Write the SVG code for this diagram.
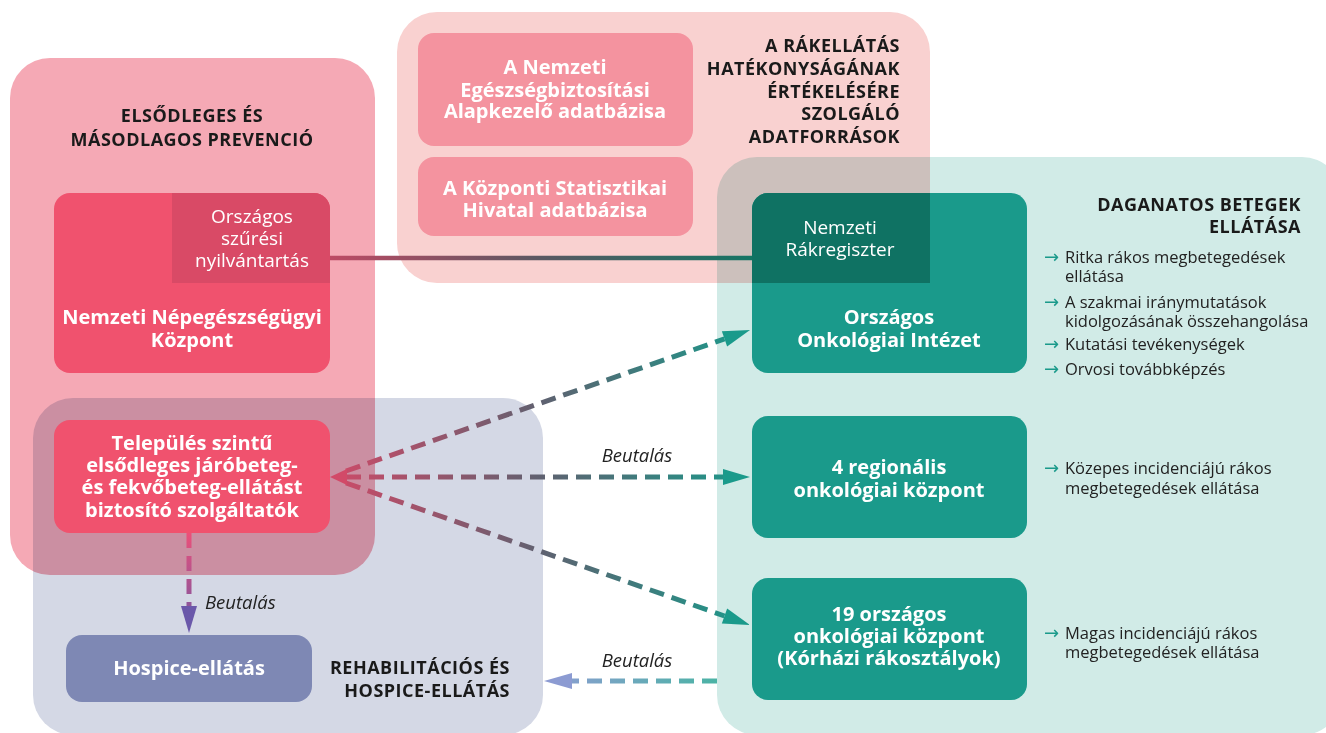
<svg xmlns="http://www.w3.org/2000/svg" width="1326" height="733" viewBox="0 0 1326 733">
<defs>
<style>
.panel{mix-blend-mode:multiply}
.title{font-family:'Open Sans',sans-serif;font-weight:700;font-size:18px;letter-spacing:.5px;fill:#1a1a1a}
.nb{font-family:'Open Sans',sans-serif;font-weight:700;font-size:20px;fill:#fff;text-anchor:middle}
.nr{font-family:'Open Sans',sans-serif;font-weight:400;font-size:19px;fill:#fff;text-anchor:middle}
.bl{font-family:'Open Sans',sans-serif;font-size:16.5px;fill:#222}
.ar{font-family:'DejaVu Sans',sans-serif;font-size:18px;fill:#1a9a8b}
.lab{font-family:'Open Sans',sans-serif;font-style:italic;font-size:18.5px;fill:#222}
.dash{fill:none;stroke-width:5;stroke-dasharray:15 8}
</style>
<linearGradient id="gSolid" gradientUnits="userSpaceOnUse" x1="330" y1="0" x2="752" y2="0">
<stop offset="0" stop-color="#bd4a64"/><stop offset="0.5" stop-color="#5a5862"/><stop offset="1" stop-color="#137564"/>
</linearGradient>
<linearGradient id="gRef" gradientUnits="userSpaceOnUse" x1="330" y1="0" x2="752" y2="0">
<stop offset="0" stop-color="#cf4a68"/><stop offset="0.5" stop-color="#5f6170"/><stop offset="1" stop-color="#1a9a8b"/>
</linearGradient>
<linearGradient id="gDown" gradientUnits="userSpaceOnUse" x1="0" y1="533" x2="0" y2="633">
<stop offset="0" stop-color="#ec5079"/><stop offset="1" stop-color="#6c57a8"/>
</linearGradient>
<linearGradient id="gBack" gradientUnits="userSpaceOnUse" x1="717" y1="0" x2="545" y2="0">
<stop offset="0" stop-color="#4bb3a5"/><stop offset="1" stop-color="#8e9dd3"/>
</linearGradient>
<marker id="mTeal" markerUnits="userSpaceOnUse" markerWidth="28" markerHeight="16" refX="0" refY="8" orient="auto" overflow="visible">
<path d="M0,0 L27,8 L0,16 z" fill="#1a9a8b"/>
</marker>
<marker id="mPurple" markerUnits="userSpaceOnUse" markerWidth="28" markerHeight="16" refX="0" refY="8" orient="auto" overflow="visible">
<path d="M0,0 L27,8 L0,16 z" fill="#6a58aa"/>
</marker>
<marker id="mLav" markerUnits="userSpaceOnUse" markerWidth="28" markerHeight="16" refX="0" refY="8" orient="auto" overflow="visible">
<path d="M0,0 L28,8 L0,16 z" fill="#8c9bd2"/>
</marker>
</defs>
<rect x="0" y="0" width="1326" height="733" fill="#fff"/>

<g id="panels">
<g id="panel-prevencio">
<rect class="panel" x="10" y="58" width="365" height="517" rx="40" fill="#f5a9b5"/>
</g>
<g id="panel-adatforrasok">
<rect class="panel" x="397" y="12" width="533" height="271" rx="40" fill="#f9d1d0"/>
</g>
<g id="panel-ellatas">
<rect class="panel" x="717" y="157" width="625" height="578" rx="40" fill="#d1ebe7"/>
</g>
<g id="panel-hospice">
<rect class="panel" x="33" y="398" width="510" height="337" rx="40" fill="#d4d8e5"/>
</g>
</g>

<g id="titles">
<text class="title" text-anchor="middle" x="192" y="122">ELSŐDLEGES ÉS</text>
<text class="title" text-anchor="middle" x="192" y="146">MÁSODLAGOS PREVENCIÓ</text>
<text class="title" text-anchor="end" x="900" y="52">A RÁKELLÁTÁS</text>
<text class="title" text-anchor="end" x="900" y="75">HATÉKONYSÁGÁNAK</text>
<text class="title" text-anchor="end" x="900" y="97.5">ÉRTÉKELÉSÉRE</text>
<text class="title" text-anchor="end" x="900" y="120">SZOLGÁLÓ</text>
<text class="title" text-anchor="end" x="900" y="143">ADATFORRÁSOK</text>
<text class="title" text-anchor="end" x="1301" y="211">DAGANATOS BETEGEK</text>
<text class="title" text-anchor="end" x="1301" y="233">ELLÁTÁSA</text>
<text class="title" text-anchor="end" x="510" y="674">REHABILITÁCIÓS ÉS</text>
<text class="title" text-anchor="end" x="510" y="697">HOSPICE-ELLÁTÁS</text>
</g>

<g id="node-neak">
<rect x="418" y="33" width="275" height="113" rx="16" fill="#f4939f"/>
<text class="nb" x="555" y="74">A Nemzeti</text>
<text class="nb" x="555" y="96.5">Egészségbiztosítási</text>
<text class="nb" x="555" y="118">Alapkezelő adatbázisa</text>
</g>
<g id="node-ksh">
<rect x="418" y="157" width="275" height="79" rx="16" fill="#f4939f"/>
<text class="nb" x="555" y="195">A Központi Statisztikai</text>
<text class="nb" x="555" y="217">Hivatal adatbázisa</text>
</g>

<g id="node-nnk">
<rect x="54" y="193" width="276" height="180" rx="16" fill="#f0526e"/>
<path d="M172,193 H314 A16,16 0 0 1 330,209 V283 H172 Z" fill="#d94a66"/>
<text class="nr" x="252" y="223">Országos</text>
<text class="nr" x="252" y="245">szűrési</text>
<text class="nr" x="252" y="267">nyilvántartás</text>
<text class="nb" x="192" y="324">Nemzeti Népegészségügyi</text>
<text class="nb" x="192" y="347">Központ</text>
</g>

<g id="node-ooi">
<rect x="752" y="193" width="275" height="180" rx="16" fill="#1a9a8b"/>
<path d="M768,193 H930 V283 H752 V209 A16,16 0 0 1 768,193 Z" fill="#0f7263"/>
<text class="nr" x="840" y="234">Nemzeti</text>
<text class="nr" x="840" y="256">Rákregiszter</text>
<text class="nb" x="889" y="324">Országos</text>
<text class="nb" x="889" y="347">Onkológiai Intézet</text>
</g>

<g id="node-regional">
<rect x="752" y="416" width="275" height="122" rx="16" fill="#1a9a8b"/>
<text class="nb" x="889" y="474">4 regionális</text>
<text class="nb" x="889" y="497">onkológiai központ</text>
</g>

<g id="node-19">
<rect x="752" y="578" width="275" height="122" rx="16" fill="#1a9a8b"/>
<text class="nb" x="889" y="621">19 országos</text>
<text class="nb" x="889" y="643">onkológiai központ</text>
<text class="nb" x="889" y="665">(Kórházi rákosztályok)</text>
</g>

<g id="node-telepules">
<rect x="54" y="420" width="276" height="113" rx="16" fill="#f0526e"/>
<text class="nb" x="192" y="450">Település szintű</text>
<text class="nb" x="192" y="472">elsődleges járóbeteg-</text>
<text class="nb" x="192" y="494">és fekvőbeteg-ellátást</text>
<text class="nb" x="192" y="517">biztosító szolgáltatók</text>
</g>

<g id="node-hospice">
<rect x="66" y="635" width="246" height="67" rx="16" fill="#7e88b4"/>
<text class="nb" x="189" y="675">Hospice-ellátás</text>
</g>

<g id="bullets">
<text class="ar" x="1044" y="263">→</text>
<text class="bl" x="1065" y="263">Ritka rákos megbetegedések</text>
<text class="bl" x="1065" y="282">ellátása</text>
<text class="ar" x="1044" y="308">→</text>
<text class="bl" x="1065" y="308">A szakmai iránymutatások</text>
<text class="bl" x="1065" y="327">kidolgozásának összehangolása</text>
<text class="ar" x="1044" y="350">→</text>
<text class="bl" x="1065" y="350">Kutatási tevékenységek</text>
<text class="ar" x="1044" y="375">→</text>
<text class="bl" x="1065" y="375">Orvosi továbbképzés</text>
<text class="ar" x="1044" y="474">→</text>
<text class="bl" x="1065" y="474">Közepes incidenciájú rákos</text>
<text class="bl" x="1065" y="494">megbetegedések ellátása</text>
<text class="ar" x="1044" y="639">→</text>
<text class="bl" x="1065" y="639">Magas incidenciájú rákos</text>
<text class="bl" x="1065" y="658">megbetegedések ellátása</text>
</g>

<g id="connectors">
<line x1="330" y1="258" x2="752" y2="258" stroke="url(#gSolid)" stroke-width="4.5"/>
<path class="dash" d="M346,471 L724.5,338.9" stroke="url(#gRef)" marker-end="url(#mTeal)"/>
<path class="dash" d="M346,477 L723,477" stroke="url(#gRef)" marker-end="url(#mTeal)"/>
<path class="dash" d="M346,483 L724.5,616" stroke="url(#gRef)" marker-end="url(#mTeal)"/>
<path d="M330,477 L347,469 L347,485 Z" fill="#d24a68"/>
<path class="dash" d="M189,533 L189,606" stroke="url(#gDown)" stroke-dasharray="16 8" marker-end="url(#mPurple)"/>
<path class="dash" d="M717,681 L572,681" stroke="url(#gBack)" stroke-dasharray="11 12" marker-end="url(#mLav)"/>
<text class="lab" x="637" y="462" text-anchor="middle">Beutalás</text>
<text class="lab" x="205" y="609">Beutalás</text>
<text class="lab" x="637" y="667" text-anchor="middle">Beutalás</text>
</g>
</svg>
